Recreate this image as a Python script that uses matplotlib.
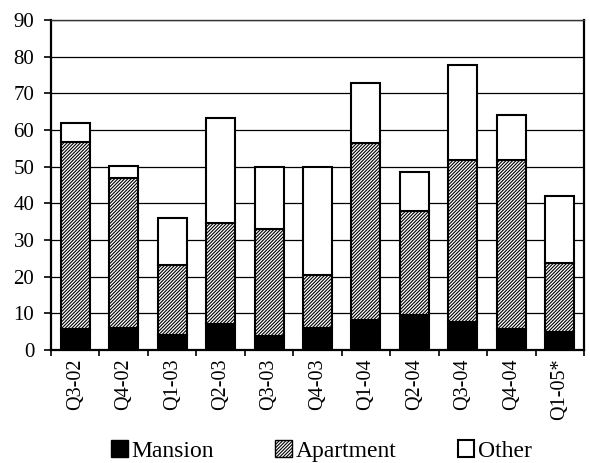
import matplotlib
matplotlib.use("Agg")
import matplotlib.pyplot as plt
import numpy as np
from matplotlib.patches import Patch

categories = ["Q3-02", "Q4-02", "Q1-03", "Q2-03", "Q3-03", "Q4-03",
              "Q1-04", "Q2-04", "Q3-04", "Q4-04", "Q1-05*"]
mansion = [5.6, 6.0, 4.0, 7.2, 3.9, 6.0, 8.2, 9.5, 7.6, 5.6, 4.9]
apartment = [51.2, 41.0, 19.3, 27.4, 29.1, 14.4, 48.3, 28.3, 44.1, 46.3, 18.8]
other = [5.2, 3.3, 12.6, 28.7, 16.8, 29.6, 16.3, 10.8, 26.1, 12.2, 18.2]

plt.rcParams['font.family'] = ['Liberation Serif', 'DejaVu Serif']
plt.rcParams['hatch.color'] = '#666666'
plt.rcParams['hatch.linewidth'] = 0.8

HATCH = '/' * 10

fig = plt.figure(figsize=(5.9, 4.63), dpi=100)
ax = fig.add_axes([51/590, (463-350)/463, 533/590, 330/463])

x = np.arange(len(categories))
w = 0.6
m = np.array(mansion)
a = np.array(apartment)
o = np.array(other)

ax.bar(x, m, w, color='black', edgecolor='black', linewidth=1.5, zorder=3)
ax.bar(x, a, w, bottom=m, color='white', edgecolor='black', hatch=HATCH,
       linewidth=1.5, zorder=3)
ax.bar(x, o, w, bottom=m + a, color='white', edgecolor='black', linewidth=1.5, zorder=3)

ax.set_xlim(-0.5, len(categories) - 0.5)
ax.set_ylim(0, 90)
ax.set_yticks(np.arange(0, 91, 10))
ax.yaxis.grid(True, color='black', linewidth=0.9, zorder=0)
ax.set_axisbelow(True)

ax.set_xticks(x)
ax.set_xticklabels(categories, rotation=90, fontsize=14.5)
ax.tick_params(axis='x', which='major', length=0, pad=6)
ax.set_xticks(np.arange(-0.5, len(categories), 1), minor=True)
ax.tick_params(axis='x', which='minor', length=4.5, width=1.2, direction='out')
ax.tick_params(axis='y', length=5, width=1.2, direction='out', labelsize=15, pad=7)

for s in ['left', 'bottom', 'right']:
    ax.spines[s].set_linewidth(1.6)
    ax.spines[s].set_color('black')
ax.spines['top'].set_linewidth(1.0)
ax.spines['top'].set_color('#333333')

handles = [Patch(facecolor='black', edgecolor='black', label='Mansion'),
           Patch(facecolor='white', edgecolor='black', hatch=HATCH, label='Apartment'),
           Patch(facecolor='white', edgecolor='black', linewidth=1.5, label='Other')]
fig.legend(handles=handles, loc='center', bbox_to_anchor=(0.545, 0.026), ncol=3,
           frameon=False, fontsize=17, handlelength=0.7, handleheight=0.7,
           handletextpad=0.15, columnspacing=2.6)

fig.savefig('out.png', dpi=100)
